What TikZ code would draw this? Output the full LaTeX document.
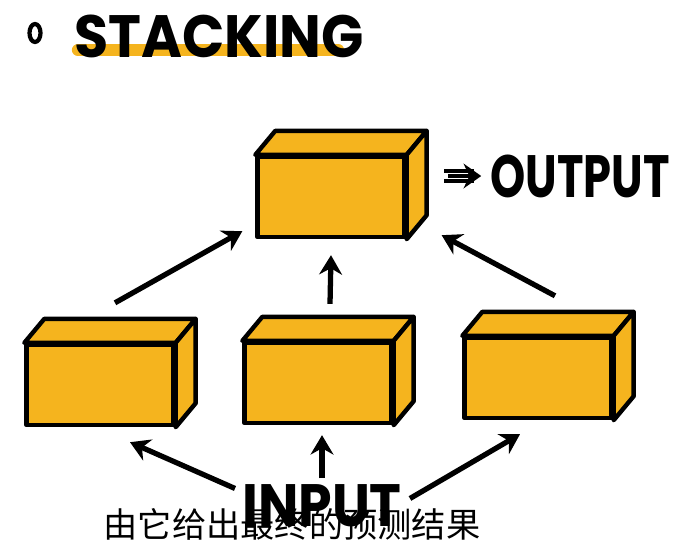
\documentclass[tikz,border=0pt]{standalone}
\usepackage{fontspec}
\usepackage{graphicx}
\usetikzlibrary{arrows.meta}
\newfontfamily\cjk{Noto Sans CJK SC}
\newfontfamily\handfont{Poppins}
\definecolor{boxorange}{RGB}{245,180,30}

\begin{document}
\begin{tikzpicture}[x=0.02cm, y=-0.02cm,
  front/.style={draw, fill=boxorange, line width=2.5pt, line join=round,
    minimum width=2.94cm, minimum height=1.6cm, inner sep=0pt},
  face/.style={draw, fill=boxorange, line width=2.5pt, line join=round},
  arr/.style={line width=3pt, -{Stealth[length=11pt, width=13pt]}},
  hand/.style={font=\handfont\bfseries\fontsize{34}{34}\selectfont, inner sep=0pt}]
  \useasboundingbox (0,0) rectangle (692,555);

  % 标题
  \draw[boxorange, line width=7pt, line cap=round] (78,50) -- (338,50);
  \draw[line width=2.4pt] (35,33) ellipse [x radius=0.11cm, y radius=0.18cm];
  \node[hand, anchor=west] (title) at (74,36) {\scalebox{0.93}[1]{STACKING}};

  % 方块
  \node[front] (top) at (331,197) {};
  \node[front] (left) at (100,385) {};
  \node[front] (mid) at (318,383) {};
  \node[front] (right) at (538,378) {};
  \foreach \b in {top,left,mid,right} {
    \draw[face] (\b.north west) -- ++(20,-24) -- ([shift={(20,-24)}]\b.north east) -- (\b.north east) -- cycle;
    \draw[face] (\b.north east) -- ++(20,-24) -- ([shift={(20,-24)}]\b.south east) -- (\b.south east) -- cycle;
  }

  % 输出
  \node[hand, anchor=west] (out) at (490,176) {\scalebox{0.75}[1]{OUTPUT}};
  \draw[line width=2.5pt] ([shift={(-46,-5)}]out.west) -- ([shift={(-16,-5)}]out.west);
  \draw[line width=2.5pt] ([shift={(-46,5)}]out.west) -- ([shift={(-16,5)}]out.west);
  \draw[line width=2.5pt, -{Stealth[length=10pt, width=14pt]}] ([xshift=-24]out.west) -- ([xshift=-5]out.west);

  % 输入
  \node[hand] (in) at (322,506) {\scalebox{0.9}[1]{INPUT}};

  % 箭头
  \draw[arr] ([shift={(15,-40)}]left.north) -- ([shift={(-13,-8)}]top.south west);
  \draw[arr] ([shift={(12,-37)}]mid.north) -- ([shift={(0,16)}]top.south);
  \draw[arr] ([shift={(17,-40)}]right.north) -- ([shift={(35,-4)}]top.south east);
  \draw[arr] ([shift={(-87,4)}]in.north) -- ([shift={(30,15)}]left.south);
  \draw[arr] ([shift={(0,-6)}]in.north) -- ([shift={(4,10)}]mid.south);
  \draw[arr] ([shift={(88,14)}]in.north) -- ([shift={(-18,14)}]right.south);

  % 字幕
  \node[font=\cjk\fontsize{19.5}{19.5}\selectfont] (sub) at (292,524) {由它给出最终的预测结果};
\end{tikzpicture}
\end{document}
